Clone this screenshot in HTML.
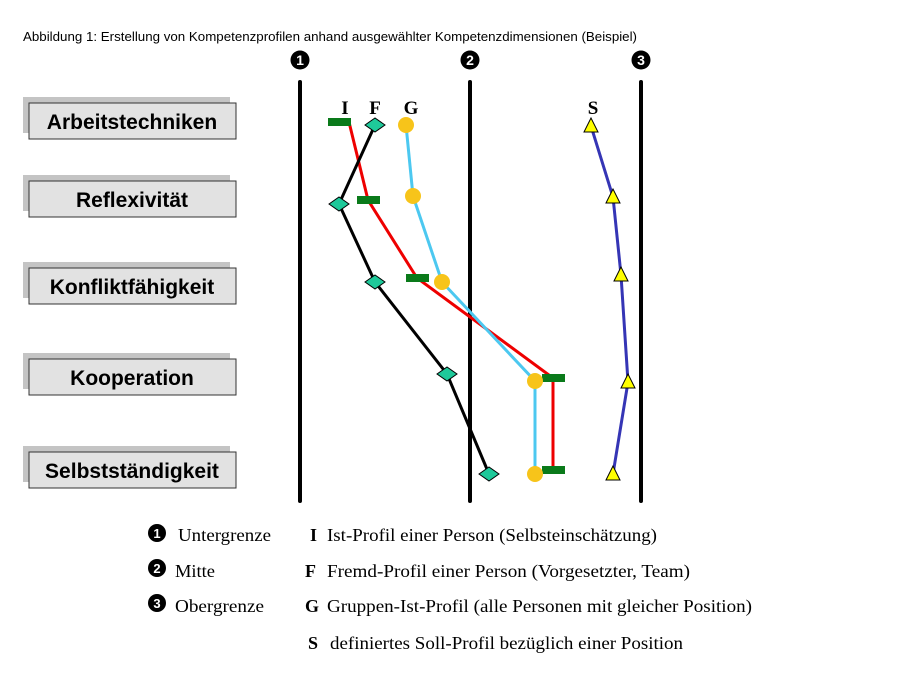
<!DOCTYPE html>
<html><head><meta charset="utf-8"><style>
html,body{margin:0;padding:0;background:#fff;}
svg{display:block}
.t{font-family:"Liberation Sans",sans-serif}
.s{font-family:"Liberation Serif",serif}
.b{font-family:"Liberation Sans",sans-serif;font-weight:bold;font-size:21px;text-anchor:middle}
</style></head><body>
<svg width="897" height="694" viewBox="0 0 897 694" xmlns="http://www.w3.org/2000/svg">
<text x="23" y="41" class="t" font-size="12.5" textLength="614" lengthAdjust="spacingAndGlyphs">Abbildung 1: Erstellung von Kompetenzprofilen anhand ausgewählter Kompetenzdimensionen (Beispiel)</text>
<g fill="#000">
<circle cx="300" cy="60" r="9.5"/><circle cx="470" cy="60" r="9.5"/><circle cx="641" cy="60" r="9.5"/>
</g>
<g fill="#fff" font-family="Liberation Sans,sans-serif" font-weight="bold" font-size="14" text-anchor="middle">
<text x="300" y="65">1</text><text x="470" y="65">2</text><text x="641" y="65">3</text>
</g>
<g stroke="#000" stroke-width="4" stroke-linecap="round">
<line x1="300" y1="82" x2="300" y2="501"/><line x1="470" y1="82" x2="470" y2="501"/><line x1="641" y1="82" x2="641" y2="501"/>
</g>
<g>
<rect x="23" y="97" width="207" height="36" fill="#c4c4c4"/><rect x="29" y="103" width="207" height="36" fill="#e2e2e2" stroke="#333" stroke-width="1"/>
<rect x="23" y="175" width="207" height="36" fill="#c4c4c4"/><rect x="29" y="181" width="207" height="36" fill="#e2e2e2" stroke="#333" stroke-width="1"/>
<rect x="23" y="262" width="207" height="36" fill="#c4c4c4"/><rect x="29" y="268" width="207" height="36" fill="#e2e2e2" stroke="#333" stroke-width="1"/>
<rect x="23" y="353" width="207" height="36" fill="#c4c4c4"/><rect x="29" y="359" width="207" height="36" fill="#e2e2e2" stroke="#333" stroke-width="1"/>
<rect x="23" y="446" width="207" height="36" fill="#c4c4c4"/><rect x="29" y="452" width="207" height="36" fill="#e2e2e2" stroke="#333" stroke-width="1"/>
</g>
<text x="132" y="129" class="b">Arbeitstechniken</text>
<text x="132" y="207" class="b">Reflexivität</text>
<text x="132" y="294" class="b">Konfliktfähigkeit</text>
<text x="132" y="385" class="b">Kooperation</text>
<text x="132" y="478" class="b">Selbstständigkeit</text>
<g class="s" font-weight="bold" font-size="19" text-anchor="middle">
<text x="345" y="114">I</text><text x="375" y="114">F</text><text x="411" y="114">G</text><text x="593" y="114">S</text>
</g>
<polyline points="349,122 368,200 417,278 553,378 553,470" fill="none" stroke="#e00" stroke-width="3"/>
<polyline points="375,125 339,204 375,282 447,374 489,474" fill="none" stroke="#000" stroke-width="3"/>
<polyline points="406,125 413,196 442,282 535,381 535,474" fill="none" stroke="#4cc8f0" stroke-width="3"/>
<polyline points="591,126 613,197 621,275 628,382 613,474" fill="none" stroke="#3535b5" stroke-width="3"/>
<g fill="#0a7a1a">
<rect x="328" y="118" width="23" height="8"/><rect x="357" y="196" width="23" height="8"/><rect x="406" y="274" width="23" height="8"/><rect x="542" y="374" width="23" height="8"/><rect x="542" y="466" width="23" height="8"/>
</g>
<g fill="#1ec99a" stroke="#000" stroke-width="1">
<polygon points="365,125 375,118 385,125 375,132"/>
<polygon points="329,204 339,197 349,204 339,211"/>
<polygon points="365,282 375,275 385,282 375,289"/>
<polygon points="437,374 447,367 457,374 447,381"/>
<polygon points="479,474 489,467 499,474 489,481"/>
</g>
<g fill="#f7c41a">
<circle cx="406" cy="125" r="8"/><circle cx="413" cy="196" r="8"/><circle cx="442" cy="282" r="8"/><circle cx="535" cy="381" r="8"/><circle cx="535" cy="474" r="8"/>
</g>
<g fill="#ffff00" stroke="#000" stroke-width="1">
<polygon points="591,118 584,132 598,132"/>
<polygon points="613,189 606,203 620,203"/>
<polygon points="621,267 614,281 628,281"/>
<polygon points="628,374 621,388 635,388"/>
<polygon points="613,466 606,480 620,480"/>
</g>
<g fill="#000"><circle cx="157" cy="533" r="9"/><circle cx="157" cy="568" r="9"/><circle cx="157" cy="603" r="9"/></g>
<g fill="#fff" font-family="Liberation Sans,sans-serif" font-weight="bold" font-size="13" text-anchor="middle">
<text x="157" y="538">1</text><text x="157" y="573">2</text><text x="157" y="608">3</text>
</g>
<g class="s" font-size="18">
<text x="178" y="541" textLength="93" lengthAdjust="spacingAndGlyphs">Untergrenze</text>
<text x="175" y="577" textLength="40" lengthAdjust="spacingAndGlyphs">Mitte</text>
<text x="175" y="612" textLength="89" lengthAdjust="spacingAndGlyphs">Obergrenze</text>
<text x="327" y="541" textLength="330" lengthAdjust="spacingAndGlyphs">Ist-Profil einer Person (Selbsteinschätzung)</text>
<text x="327" y="577" textLength="363" lengthAdjust="spacingAndGlyphs">Fremd-Profil einer Person (Vorgesetzter, Team)</text>
<text x="327" y="612" textLength="425" lengthAdjust="spacingAndGlyphs">Gruppen-Ist-Profil (alle Personen mit gleicher Position)</text>
<text x="330" y="649" textLength="353" lengthAdjust="spacingAndGlyphs">definiertes Soll-Profil bezüglich einer Position</text>
</g>
<g class="s" font-size="18" font-weight="bold">
<text x="310" y="541">I</text><text x="305" y="577">F</text><text x="305" y="612">G</text><text x="308" y="649">S</text>
</g>
</svg>
</body></html>
